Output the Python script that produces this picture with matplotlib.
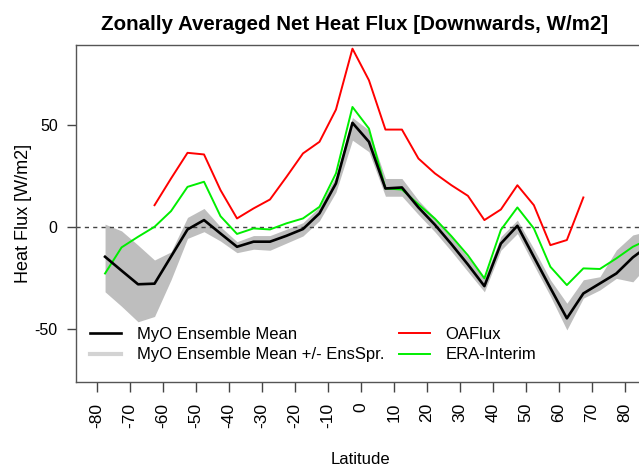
import matplotlib
matplotlib.use("Agg")
import matplotlib.pyplot as plt
import numpy as np

plt.rcParams['font.family'] = ['Liberation Sans', 'DejaVu Sans']

# Latitude bin centres (5-degree bins)
lat = [-77.5, -72.5, -67.5, -62.5, -57.5, -52.5, -47.5, -42.5, -37.5, -32.5,
       -27.5, -22.5, -17.5, -12.5, -7.5, -2.5, 2.5, 7.5, 12.5, 17.5,
       22.5, 27.5, 32.5, 37.5, 42.5, 47.5, 52.5, 57.5, 62.5, 67.5,
       72.5, 77.5, 82.5, 87.5]

# MyO ensemble mean
myo_mean = [-14.7, -21.5, -28.2, -27.9, -14.6, -1.3, 3.3, -3.3, -9.8, -7.3,
            -7.3, -4.4, -1.1, 6.6, 21.3, 51.0, 41.7, 18.8, 19.3, 9.5,
            1.0, -8.5, -18.5, -29.1, -8.2, 0.5, -14.8, -30.0, -44.9, -32.7,
            -27.8, -22.9, -15.0, -9.0]

# Ensemble spread envelope (upper / lower)
myo_upper = [1.3, -2.0, -9.0, -16.3, -12.3, 4.6, 9.0, 0.0, -7.3, -4.3,
             -4.3, -1.2, 2.0, 9.8, 25.0, 53.6, 47.4, 23.7, 23.7, 13.0,
             4.5, -5.0, -15.0, -25.3, -4.8, 3.3, -10.8, -26.0, -37.5, -26.0,
             -24.5, -11.4, -4.0, -2.0]
myo_lower = [-31.9, -39.0, -46.6, -44.0, -26.0, -5.7, -2.4, -7.0, -12.7, -11.0,
             -11.5, -8.0, -4.5, 3.0, 17.0, 42.5, 36.8, 15.0, 15.0, 6.0,
             -2.5, -12.0, -22.0, -31.9, -11.5, -3.3, -18.8, -34.0, -50.6, -35.0,
             -31.0, -25.3, -27.0, -18.0]

# OAFlux (latitudes -62.5 .. 67.5)
oa_lat = [-62.5, -57.5, -52.5, -47.5, -42.5, -37.5, -32.5, -27.5, -22.5, -17.5,
          -12.5, -7.5, -2.5, 2.5, 7.5, 12.5, 17.5, 22.5, 27.5, 32.5,
          37.5, 42.5, 47.5, 52.5, 57.5, 62.5, 67.5]
oaflux = [10.6, 23.7, 36.3, 35.5, 18.0, 4.1, 9.0, 13.4, 24.5, 36.0,
          41.7, 57.5, 87.4, 71.9, 47.7, 47.7, 33.5, 26.2, 20.4, 15.2,
          3.3, 8.5, 20.4, 10.6, -9.0, -6.5, 14.4]

# ERA-Interim
era = [-22.9, -10.1, -4.9, 0.0, 7.7, 19.6, 22.1, 5.2, -3.5, -0.8,
       -1.3, 1.7, 4.1, 9.8, 26.2, 58.8, 48.2, 18.8, 18.3, 11.0,
       4.0, -4.6, -14.0, -25.3, -1.5, 9.5, -0.8, -19.6, -28.6, -20.4,
       -20.7, -15.5, -9.8, -6.0]

xticks = list(range(-80, 81, 10))
yticks = [-50, 0, 50]

W, H = 639, 467
PT = 72.0 / 100.0  # points per pixel at dpi 100
fig = plt.figure(figsize=(W / 100, H / 100), dpi=100)
left, right, top, bottom = 75.7, 645.7, 45.0, 381.7
ax = fig.add_axes([left / W, 1 - bottom / H, (right - left) / W, (bottom - top) / H])

ax.fill_between(lat, myo_lower, myo_upper, color='#bebebe', linewidth=0, zorder=1)
ax.axhline(0, color='#444444', linestyle=(0, (3, 3)), linewidth=1.0, zorder=2)
ax.plot(lat, myo_mean, color='black', linewidth=1.9, zorder=4, label='MyO Ensemble Mean')
ax.plot([], [], color='#d3d3d3', linewidth=3.0, label='MyO Ensemble Mean +/- EnsSpr.')
ax.plot(oa_lat, oaflux, color='#ff0000', linewidth=1.4, zorder=3, label='OAFlux')
ax.plot(lat, era, color='#00ee00', linewidth=1.4, zorder=3, label='ERA-Interim')

ax.set_xlim(-86.4, 86.4)
ax.set_ylim(-76.0, 89.2)
ax.set_xticks(xticks)
ax.set_xticklabels([str(t) for t in xticks], rotation=90, fontsize=12.5)
ax.set_yticks(yticks)
ax.set_yticklabels([str(t) for t in yticks], fontsize=11.5)
ax.tick_params(axis='x', direction='out', length=10 * PT, width=1, color='#444444', pad=11 * PT)
ax.tick_params(axis='y', direction='out', length=9 * PT, width=1, color='#444444', pad=9 * PT)
for s in ax.spines.values():
    s.set_color('#555555')
    s.set_linewidth(1.0)

fig.text(360.7 / W, 1 - 459 / H, 'Latitude', ha='center', va='center', fontsize=12)
fig.text(23.5 / W, 1 - 213 / H, 'Heat Flux [W/m2]', ha='center', va='center',
         rotation=90, fontsize=13)
fig.text(355 / W, 1 - 30 / H, 'Zonally Averaged Net Heat Flux [Downwards, W/m2]',
         ha='center', va='baseline', fontsize=14.8, fontweight='bold')

ax.legend(ncol=2, loc='upper left', bbox_to_anchor=(90 / W, 1 - 327 / H),
          bbox_transform=fig.transFigure, frameon=False, fontsize=12,
          handlelength=1.85, handletextpad=0.95, columnspacing=0.9,
          labelspacing=0.32, borderpad=0, borderaxespad=0)

fig.savefig('out.png', dpi=100)
